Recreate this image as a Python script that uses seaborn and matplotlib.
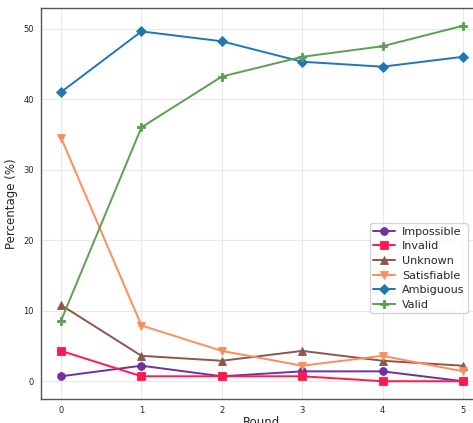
import matplotlib
matplotlib.use('Agg')
import matplotlib.pyplot as plt
import seaborn as sns
import pandas as pd

rounds = [0, 1, 2, 3, 4, 5]
impossible = [0.7, 2.2, 0.7, 1.4, 1.4, 0.0]
invalid = [4.3, 0.7, 0.7, 0.7, 0.0, 0.0]
unknown = [10.8, 3.6, 2.9, 4.3, 2.9, 2.2]
satisfiable = [34.5, 7.9, 4.3, 2.2, 3.6, 1.4]
ambiguous = [41.0, 49.6, 48.2, 45.3, 44.6, 46.0]
valid = [8.6, 36.0, 43.2, 46.0, 47.5, 50.4]

labels = ['Impossible', 'Invalid', 'Unknown', 'Satisfiable', 'Ambiguous', 'Valid']
series = [impossible, invalid, unknown, satisfiable, ambiguous, valid]
colors = ['#7030a0', '#ff1a4d', '#8c564b', '#ff8c5a', '#1f77b4', '#5aa050']
markers = ['o', 's', '^', 'v', 'D', 'P']

sns.set_style('whitegrid')
fig = plt.figure(figsize=(4.73, 4.23), dpi=100)
ax = fig.add_axes([41 / 473, 24 / 423, 442 / 473, 391 / 423])

for lab, vals, c, m in zip(labels, series, colors, markers):
    d = pd.DataFrame({'Round': rounds, 'Percentage': vals})
    sns.lineplot(data=d, x='Round', y='Percentage', color=c, marker=m,
                 markersize=5.6, markeredgecolor=c, markeredgewidth=0.6,
                 linewidth=1.4, label=lab, ax=ax)

ax.set_xlabel('Round', fontsize=8.5, labelpad=1)
ax.set_ylabel('Percentage (%)', fontsize=8.5, labelpad=4)
ax.tick_params(axis='both', labelsize=6, length=3, pad=2)
ax.set_xticks(rounds)
ax.grid(True, color='#e8e8e8', linewidth=0.8)
for s in ['left', 'bottom', 'top', 'right']:
    ax.spines[s].set_color('#555555')
    ax.spines[s].set_linewidth(1.0)

leg = ax.legend(loc='lower right', bbox_to_anchor=(0.978, 0.205), fontsize=8,
                frameon=True, handlelength=2.0, borderpad=0.3, labelspacing=0.42,
                handletextpad=0.6)
leg.get_frame().set_edgecolor('#cccccc')

fig.savefig('out.png', dpi=100, facecolor='white')
